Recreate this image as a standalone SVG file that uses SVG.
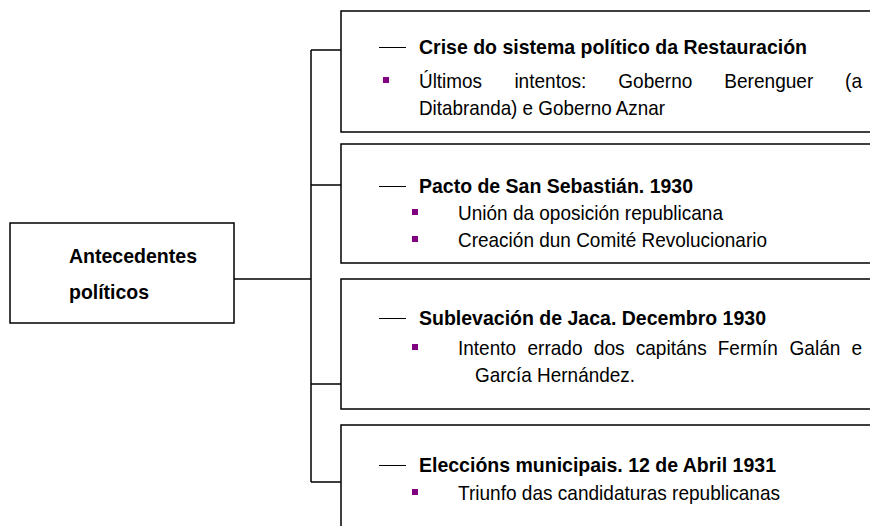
<svg xmlns="http://www.w3.org/2000/svg" width="870" height="526" viewBox="0 0 870 526">
<style>
.box{fill:#fff;stroke:#000;stroke-width:1.5}
.con{fill:none;stroke:#000;stroke-width:1.5}
text{font-family:"Liberation Sans","Arial",sans-serif;font-size:21px;fill:#000}
.h{font-weight:bold}
.dash{stroke:#000;stroke-width:1}
.bul{fill:#800080}
</style>
<rect width="870" height="526" fill="#fff"/>
<g id="connectors" class="con">
<path d="M234,279 H311 M311,50 V482 M311,50 H341 M311,185 H341 M311,384 H341 M311,482 H341"/>
</g>
<g id="root">
<rect class="box" x="10" y="223" width="224" height="100"/>
<text class="h" x="69" y="263" textLength="128" lengthAdjust="spacingAndGlyphs">Antecedentes</text>
<text class="h" x="69" y="299" textLength="80" lengthAdjust="spacingAndGlyphs">políticos</text>
</g>
<g id="n1">
<rect class="box" x="341" y="11" width="540" height="121"/>
<line class="dash" x1="379" y1="47.5" x2="406" y2="47.5"/>
<text class="h" x="419" y="54" textLength="388" lengthAdjust="spacingAndGlyphs">Crise do sistema político da Restauración</text>
<rect class="bul" x="383" y="77" width="6" height="6"/>
<text x="419" y="88" textLength="63" lengthAdjust="spacingAndGlyphs">Últimos</text>
<text x="514.4" y="88" textLength="72" lengthAdjust="spacingAndGlyphs">intentos:</text>
<text x="618.3" y="88" textLength="74" lengthAdjust="spacingAndGlyphs">Goberno</text>
<text x="724.3" y="88" textLength="89" lengthAdjust="spacingAndGlyphs">Berenguer</text>
<text x="845.1" y="88" textLength="17" lengthAdjust="spacingAndGlyphs">(a</text>
<text x="419" y="115" textLength="246" lengthAdjust="spacingAndGlyphs">Ditabranda) e Goberno Aznar</text>
</g>
<g id="n2">
<rect class="box" x="341" y="144" width="540" height="119"/>
<line class="dash" x1="379" y1="186.5" x2="406" y2="186.5"/>
<text class="h" x="419" y="193" textLength="274" lengthAdjust="spacingAndGlyphs">Pacto de San Sebastián. 1930</text>
<rect class="bul" x="412" y="209" width="6" height="6"/>
<text x="458" y="220" textLength="265" lengthAdjust="spacingAndGlyphs">Unión da oposición republicana</text>
<rect class="bul" x="412" y="236" width="6" height="6"/>
<text x="458" y="247" textLength="309" lengthAdjust="spacingAndGlyphs">Creación dun Comité Revolucionario</text>
</g>
<g id="n3">
<rect class="box" x="341" y="279" width="540" height="130"/>
<line class="dash" x1="379" y1="318.5" x2="406" y2="318.5"/>
<text class="h" x="419" y="325" textLength="347" lengthAdjust="spacingAndGlyphs">Sublevación de Jaca. Decembro 1930</text>
<rect class="bul" x="412" y="344" width="6" height="6"/>
<text x="458" y="355" textLength="58" lengthAdjust="spacingAndGlyphs">Intento</text>
<text x="527.5" y="355" textLength="55" lengthAdjust="spacingAndGlyphs">errado</text>
<text x="593.7" y="355" textLength="31" lengthAdjust="spacingAndGlyphs">dos</text>
<text x="635.7" y="355" textLength="71" lengthAdjust="spacingAndGlyphs">capitáns</text>
<text x="717.8" y="355" textLength="60" lengthAdjust="spacingAndGlyphs">Fermín</text>
<text x="789.4" y="355" textLength="51" lengthAdjust="spacingAndGlyphs">Galán</text>
<text x="851.4" y="355" textLength="10.6" lengthAdjust="spacingAndGlyphs">e</text>
<text x="475" y="382" textLength="160" lengthAdjust="spacingAndGlyphs">García Hernández.</text>
</g>
<g id="n4">
<rect class="box" x="341" y="425" width="540" height="120"/>
<line class="dash" x1="379" y1="465.5" x2="406" y2="465.5"/>
<text class="h" x="419" y="472" textLength="357" lengthAdjust="spacingAndGlyphs">Eleccións municipais. 12 de Abril 1931</text>
<rect class="bul" x="412" y="489" width="6" height="6"/>
<text x="458" y="500" textLength="322" lengthAdjust="spacingAndGlyphs">Triunfo das candidaturas republicanas</text>
</g>
</svg>
